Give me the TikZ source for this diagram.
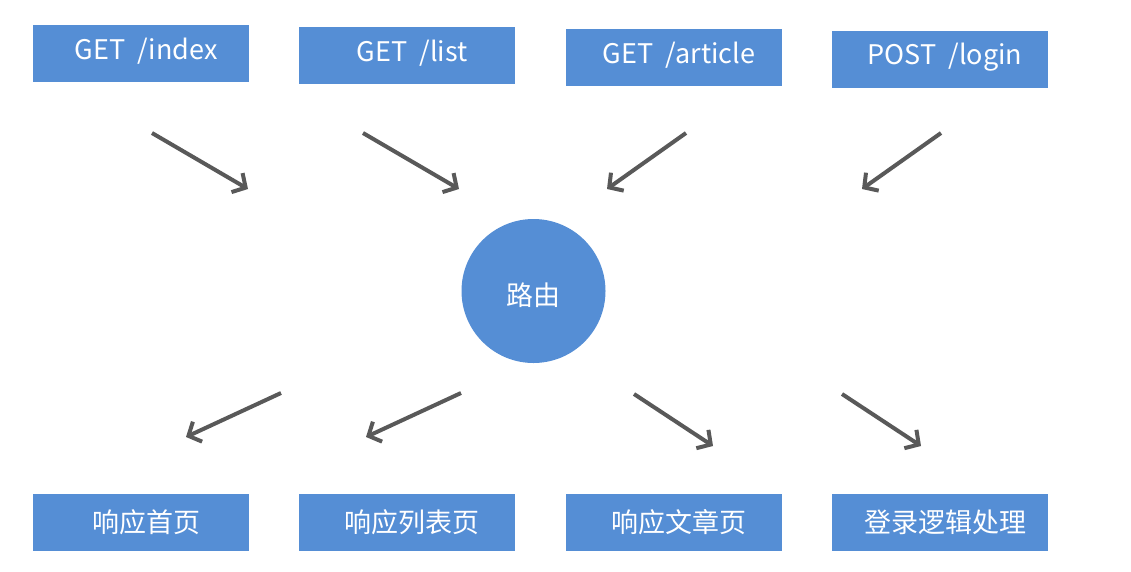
\documentclass[tikz,border=0pt]{standalone}
\usepackage{fontspec}
\setmainfont{Noto Sans CJK SC}
\usetikzlibrary{arrows.meta}
\definecolor{boxblue}{HTML}{558ED5}
\definecolor{arrgray}{HTML}{595959}
\tikzset{
  rbox/.style={fill=boxblue, draw=none, minimum width=216pt, minimum height=57pt, inner sep=0pt},
  hub/.style={circle, fill=boxblue, draw=none, minimum size=144pt, inner sep=0pt},
  lbl/.style={text=white, inner sep=0pt, font=\fontsize{27}{32}\selectfont},
  flow/.style={draw=arrgray, line width=4pt, -{Straight Barb[length=10pt, width=22pt, line width=4pt]}}
}
\begin{document}
\begin{tikzpicture}[x=1pt, y=-1pt]
\useasboundingbox (0,0) rectangle (1131,571);
% top request boxes
\node[rbox] (r1) at (141,53) {};
\node[rbox] (r2) at (407,55) {};
\node[rbox] (r3) at (674,57) {};
\node[rbox] (r4) at (940,59) {};
\node[lbl] (t1) at (146,51) {GET\ \ /index};
\node[lbl] (t2) at (412,53) {GET\ \ /list};
\node[lbl] (t3) at (679,55) {GET\ \ /article};
\node[lbl] (t4) at (945,57) {POST\ \ /login};
% hub
\node[hub] (hub) at (533.5,291) {};
\node[lbl] (ht) at (533,295) {路由};
% bottom response boxes
\node[rbox] (b1) at (141,522.5) {};
\node[rbox] (b2) at (407,522.5) {};
\node[rbox] (b3) at (674,522.5) {};
\node[rbox] (b4) at (940,522.5) {};
\node[lbl] (u1) at (146,522) {响应首页};
\node[lbl] (u2) at (412,522) {响应列表页};
\node[lbl] (u3) at (679,522) {响应文章页};
\node[lbl] (u4) at (945,522) {登录逻辑处理};
% arrow end coordinates
\coordinate (a1s) at (152,133); \coordinate (a1e) at (248,189);
\coordinate (a2s) at (363,133); \coordinate (a2e) at (459,189);
\coordinate (a3s) at (686,133); \coordinate (a3e) at (607,189);
\coordinate (a4s) at (941,133); \coordinate (a4e) at (862,189);
\coordinate (c1s) at (281,393); \coordinate (c1e) at (186,437);
\coordinate (c2s) at (461,393); \coordinate (c2e) at (366,437);
\coordinate (c3s) at (634,394); \coordinate (c3e) at (713,446);
\coordinate (c4s) at (842,394); \coordinate (c4e) at (921,446);
\draw[flow] (a1s) -- (a1e);
\draw[flow] (a2s) -- (a2e);
\draw[flow] (a3s) -- (a3e);
\draw[flow] (a4s) -- (a4e);
\draw[flow] (c1s) -- (c1e);
\draw[flow] (c2s) -- (c2e);
\draw[flow] (c3s) -- (c3e);
\draw[flow] (c4s) -- (c4e);
\end{tikzpicture}
\end{document}
